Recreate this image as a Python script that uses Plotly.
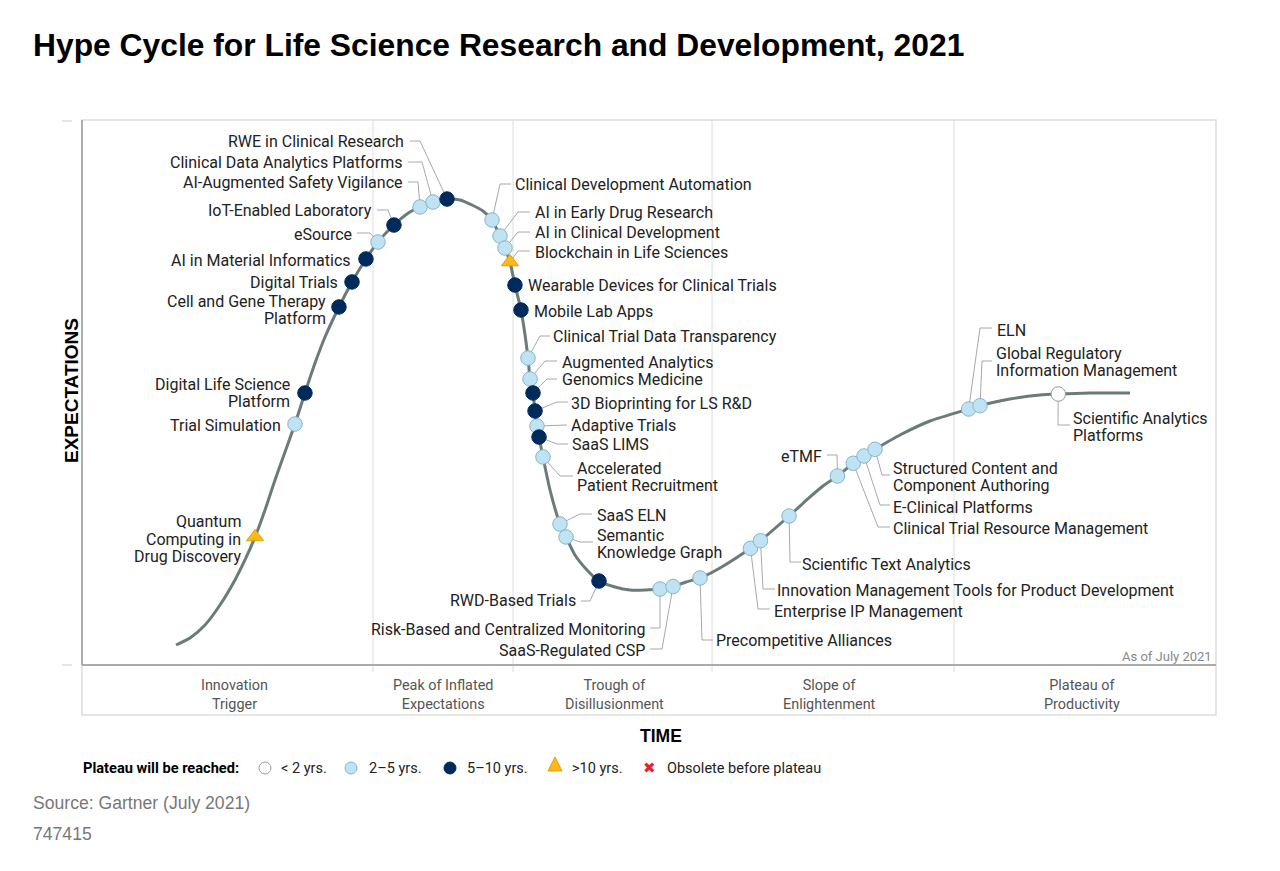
import plotly.graph_objects as go

# ---------------- data (time %, expectations %) ----------------
CURVE_T = [8.29, 9.52, 10.85, 12.17, 13.49, 14.37, 15.26, 16.14, 17.02, 17.90, 18.78, 19.66, 20.55, 21.43,
           22.66, 23.81, 25.04, 26.10, 27.51, 28.66, 29.81, 30.95, 32.19, 33.33, 34.39, 35.36, 36.16, 36.86,
           37.30, 37.74, 38.18, 38.71, 39.07, 39.33, 39.51, 39.77, 39.95, 40.12, 40.30, 40.65, 41.27, 42.15,
           42.68, 43.47, 44.53, 45.59, 47.00, 48.32, 49.65, 50.97, 52.12, 53.26, 54.50, 56.26, 58.95, 59.83,
           62.35, 64.20, 65.34, 66.62, 68.01, 68.96, 69.93, 72.13, 74.78, 78.19, 79.19, 81.83, 84.48, 86.09,
           88.89, 92.42]
CURVE_E = [3.67, 4.95, 7.34, 11.01, 15.60, 19.27, 23.49, 28.44, 33.94, 39.08, 44.22, 49.91, 55.41, 60.18,
           65.69, 70.28, 74.50, 77.61, 80.73, 82.75, 84.04, 84.95, 85.50, 85.32, 84.40, 83.30, 81.65, 78.72,
           76.51, 73.94, 69.72, 65.14, 60.55, 56.33, 52.48, 49.91, 46.61, 43.85, 41.83, 38.17, 32.11, 25.87,
           23.49, 20.18, 17.43, 15.41, 14.31, 13.76, 13.76, 13.94, 14.40, 15.23, 15.96, 17.80, 21.41, 22.81,
           27.34, 30.83, 32.84, 34.68, 37.01, 38.35, 39.58, 42.20, 44.77, 46.97, 47.58, 48.81, 49.54, 49.72,
           49.91, 49.91]

TECH_LABELS = [
    "Quantum<br>Computing in<br>Drug Discovery", "Trial Simulation", "Digital Life Science<br>Platform",
    "Cell and Gene Therapy<br>Platform", "Digital Trials", "AI in Material Informatics", "eSource",
    "IoT-Enabled Laboratory", "AI-Augmented Safety Vigilance", "Clinical Data Analytics Platforms",
    "RWE in Clinical Research", "Clinical Development Automation", "AI in Early Drug Research",
    "AI in Clinical Development", "Blockchain in Life Sciences", "Wearable Devices for Clinical Trials",
    "Mobile Lab Apps", "Clinical Trial Data Transparency", "Augmented Analytics", "Genomics Medicine",
    "3D Bioprinting for LS R&D", "Adaptive Trials", "SaaS LIMS", "Accelerated<br>Patient Recruitment",
    "SaaS ELN", "Semantic<br>Knowledge Graph", "RWD-Based Trials", "Risk-Based and Centralized Monitoring",
    "SaaS-Regulated CSP", "Precompetitive Alliances", "Enterprise IP Management",
    "Innovation Management Tools for Product Development", "Scientific Text Analytics", "eTMF",
    "Clinical Trial Resource Management", "E-Clinical Platforms", "Structured Content and<br>Component Authoring",
    "ELN", "Global Regulatory<br>Information Management", "Scientific Analytics<br>Platforms",
]
TECH_TIME = [15.26, 18.78, 19.66, 22.66, 23.81, 25.04, 26.10, 27.51, 29.81, 30.95,
             32.19, 36.16, 36.86, 37.30, 37.74, 38.18, 38.71, 39.33, 39.51, 39.77,
             39.95, 40.12, 40.30, 40.65, 42.15, 42.68, 45.59, 50.97, 52.12, 54.50,
             58.95, 59.83, 62.35, 66.62, 68.01, 68.96, 69.93, 78.19, 79.19, 86.09]
TECH_EXPECT = [23.49, 44.22, 49.91, 65.69, 70.28, 74.50, 77.61, 80.73, 84.04, 84.95,
               85.50, 81.65, 78.72, 76.51, 73.94, 69.72, 65.14, 56.33, 52.48, 49.91,
               46.61, 43.85, 41.83, 38.17, 25.87, 23.49, 15.41, 13.94, 14.40, 15.96,
               21.41, 22.81, 27.34, 34.68, 37.01, 38.35, 39.58, 46.97, 47.58, 49.72]
TECH_PLATEAU = [">10", "2-5", "5-10", "5-10", "5-10", "5-10", "2-5", "5-10", "2-5", "2-5",
                "5-10", "2-5", "2-5", "2-5", ">10", "5-10", "5-10", "2-5", "2-5", "5-10",
                "5-10", "2-5", "5-10", "2-5", "2-5", "2-5", "5-10", "2-5", "2-5", "2-5",
                "2-5", "2-5", "2-5", "2-5", "2-5", "2-5", "2-5", "2-5", "2-5", "<2"]

PHASE_NAMES = ["Innovation<br>Trigger", "Peak of Inflated<br>Expectations", "Trough of<br>Disillusionment",
               "Slope of<br>Enlightenment", "Plateau of<br>Productivity"]
PHASE_BOUNDS = [25.66, 38.01, 55.56, 76.90]   # time % where phases change

LEGEND_LABELS = ["< 2 yrs.", "2\u20135 yrs.", "5\u201310 yrs.", ">10 yrs.", "Obsolete before plateau"]

# ---------------- layout helpers (pixel geometry of the frame) ----------------
W, H = 1280, 871
L, R, T, B = 82, 1216, 120, 665

def dx(px):  # pixel -> data x
    return (px - L) / (R - L) * 100

def dy(py):  # pixel -> data y
    return (B - py) / (B - T) * 100

def pxp(px):  # pixel -> paper x
    return (px - L) / (R - L)

def pyp(py):
    return (B - py) / (B - T)

# label anchor (xanchor, px, py) and leader elbow points (pixels)
LABEL_LAYOUT = [
    ("right", 241, 539, None),
    ("right", 281, 425, None),
    ("right", 290, 393, None),
    ("right", 326, 310, None),
    ("right", 338, 282, None),
    ("right", 351, 260, None),
    ("right", 352, 234, [(370, 233), (357, 233)]),
    ("right", 372, 210, [(388, 210), (377, 210)]),
    ("right", 403, 182, [(418, 182), (408, 182)]),
    ("right", 402, 162, [(422, 162), (408, 162)]),
    ("right", 404, 141, [(420, 141), (410, 141)]),
    ("left", 515, 184, [(500, 184), (511, 184)]),
    ("left", 535, 212, [(518, 212), (530, 212)]),
    ("left", 535, 232, [(518, 232), (530, 232)]),
    ("left", 535, 252, [(518, 251), (530, 251)]),
    ("left", 528, 285, None),
    ("left", 534, 311, None),
    ("left", 553, 336, [(540, 336), (550, 336)]),
    ("left", 562, 362, [(545, 361), (557, 361)]),
    ("left", 562, 379, [(547, 379), (557, 379)]),
    ("left", 571, 403, [(557, 402), (568, 402)]),
    ("left", 571, 425, [(567, 425)]),
    ("left", 572, 444, [(557, 444), (568, 444)]),
    ("left", 577, 477, [(560, 476), (573, 476)]),
    ("left", 597, 515, [(580, 514), (592, 514)]),
    ("left", 597, 544, [(580, 542), (593, 542)]),
    ("right", 576, 600, [(590, 601), (581, 601)]),
    ("right", 645, 629, [(660, 628), (650, 628)]),
    ("right", 645, 650, [(662, 649), (650, 649)]),
    ("left", 716, 640, [(702, 640), (713, 640)]),
    ("left", 774, 611, [(758, 609), (770, 609)]),
    ("left", 777, 590, [(763, 589), (775, 589)]),
    ("left", 802, 564, [(790, 562), (801, 562)]),
    ("right", 822, 456, [(837, 455), (827, 455)]),
    ("left", 893, 528, [(878, 527), (890, 527)]),
    ("left", 893, 507, [(880, 505), (890, 505)]),
    ("left", 893, 477, [(882, 475), (890, 475)]),
    ("left", 997, 330, [(980, 328), (992, 328)]),
    ("left", 996, 362, [(982, 361), (992, 361)]),
    ("left", 1073, 427, [(1058, 425), (1070, 425)]),
]
LINE_H = 17.5   # px between lines of a multi-line label
PAD = 2         # annotation inner padding compensation

STYLE = {
    "<2": dict(symbol="circle", size=14.5, color="#FFFFFF", line=dict(color="#9A9A9A", width=1)),
    "2-5": dict(symbol="circle", size=14.5, color="#BFE3F3", line=dict(color="#86B5CB", width=1)),
    "5-10": dict(symbol="circle", size=14.5, color="#002A5C", line=dict(color="#002A5C", width=1)),
    ">10": dict(symbol="triangle-up", size=15, color="#FFB81C", line=dict(color="#E5A000", width=1)),
}

FONT = "Roboto, Arial, sans-serif"
HEAD = "Liberation Sans, Arial, sans-serif"

fig = go.Figure()

# leaders
lx, ly = [], []
for i, lay in enumerate(LABEL_LAYOUT):
    pts = lay[3]
    if not pts:
        continue
    lx.append(TECH_TIME[i]); ly.append(TECH_EXPECT[i])
    for (px, py) in pts:
        lx.append(dx(px)); ly.append(dy(py))
    lx.append(None); ly.append(None)
fig.add_trace(go.Scatter(x=lx, y=ly, mode="lines", line=dict(color="#A8A8A8", width=1),
                         hoverinfo="skip", showlegend=False))

# curve
fig.add_trace(go.Scatter(x=CURVE_T, y=CURVE_E, mode="lines",
                         line=dict(color="#6D7A7A", width=3, shape="spline", smoothing=0.6),
                         hoverinfo="skip", showlegend=False))

# technology markers
for cat in ["<2", "2-5", "5-10", ">10"]:
    idx = [i for i, c in enumerate(TECH_PLATEAU) if c == cat]
    fig.add_trace(go.Scatter(
        x=[TECH_TIME[i] for i in idx], y=[TECH_EXPECT[i] for i in idx],
        text=[TECH_LABELS[i].replace("<br>", " ") for i in idx],
        mode="markers", marker=STYLE[cat], hoverinfo="text", showlegend=False, cliponaxis=False))

annotations = []

# technology labels (one annotation per line for tight line spacing)
for i, (anc, px, py, _) in enumerate(LABEL_LAYOUT):
    lines = TECH_LABELS[i].split("<br>")
    n = len(lines)
    ax = px - PAD if anc == "left" else px + PAD
    for k, line in enumerate(lines):
        yy = py + (k - (n - 1) / 2) * LINE_H
        annotations.append(dict(x=dx(ax), y=dy(yy), xref="x", yref="y", text=line, showarrow=False,
                                xanchor=anc, yanchor="middle", align=anc,
                                font=dict(family=FONT, size=16, color="#222222")))

shapes = []
# plot frame
shapes.append(dict(type="rect", xref="paper", yref="paper", x0=0, x1=1, y0=0, y1=1,
                   line=dict(color="#DDDDDD", width=1.5), layer="below"))
# phase band
shapes.append(dict(type="rect", xref="paper", yref="paper", x0=0, x1=1, y0=pyp(715), y1=0,
                   line=dict(color="#DDDDDD", width=1.5), layer="below"))
# phase separators
for b in PHASE_BOUNDS:
    shapes.append(dict(type="line", xref="x", yref="paper", x0=b, x1=b, y0=pyp(672), y1=1,
                       line=dict(color="#DDDDDD", width=1), layer="below"))
# axes lines
shapes.append(dict(type="line", xref="paper", yref="paper", x0=0, x1=0, y0=0, y1=1,
                   line=dict(color="#9A9A9A", width=1.5)))
shapes.append(dict(type="line", xref="paper", yref="paper", x0=0, x1=1, y0=0, y1=0,
                   line=dict(color="#9A9A9A", width=1.5)))
# small ticks at left
for ty in (121, 665):
    shapes.append(dict(type="line", xref="paper", yref="paper", x0=pxp(62), x1=pxp(72), y0=pyp(ty), y1=pyp(ty),
                       line=dict(color="#CCCCCC", width=1)))

# legend symbols
ly_leg = 768
def circ(cx, fill, line):
    r = 6
    return dict(type="circle", xref="paper", yref="paper", x0=pxp(cx - r), x1=pxp(cx + r),
                y0=pyp(ly_leg + r), y1=pyp(ly_leg - r), fillcolor=fill, line=dict(color=line, width=1))
shapes.append(circ(265, STYLE["<2"]["color"], STYLE["<2"]["line"]["color"]))
shapes.append(circ(351, STYLE["2-5"]["color"], STYLE["2-5"]["line"]["color"]))
shapes.append(circ(450, STYLE["5-10"]["color"], STYLE["5-10"]["line"]["color"]))
tri = "M {} {} L {} {} L {} {} Z".format(pxp(555), pyp(757), pxp(562), pyp(771), pxp(548), pyp(771))
shapes.append(dict(type="path", xref="paper", yref="paper", path=tri, fillcolor=STYLE[">10"]["color"],
                   line=dict(color=STYLE[">10"]["line"]["color"], width=1)))

def ann(px, py, text, size, color="#222222", family=FONT, xanchor="left", yanchor="middle", align="left", **kw):
    annotations.append(dict(x=pxp(px), y=pyp(py), xref="paper", yref="paper", text=text, showarrow=False,
                            xanchor=xanchor, yanchor=yanchor, align=align,
                            font=dict(family=family, size=size, color=color), **kw))

ann(31, 45, "<b>Hype Cycle for Life Science Research and Development, 2021</b>", 31.8, "#000000", HEAD)
ann(71, 391, "<b>EXPECTATIONS</b>", 19, "#000000", HEAD, xanchor="center", textangle=-90)
ann(661, 736, "<b>TIME</b>", 17.5, "#000000", HEAD, xanchor="center")
ann(1214, 656, "As of July 2021", 13, "#888888", xanchor="right")

phase_centers = [234, 443, 614, 829, 1082]
for name, cx in zip(PHASE_NAMES, phase_centers):
    ann(cx, 694.5, name, 14.4, "#555555", xanchor="center", align="center")

# legend
ann(81, 768, "<b>Plateau will be reached:</b>", 14.6, "#000000")
for text, x0 in zip(LEGEND_LABELS, [279, 367, 465, 570, 665]):
    ann(x0, 768, text, 14.5, "#222222")
ann(649, 768, "\u2716", 15, "#E0262A", family="DejaVu Sans", xanchor="center")

ann(31, 803, "Source: Gartner (July 2021)", 17.6, "#777777", HEAD)
ann(31, 834, "747415", 17.6, "#777777", HEAD)

fig.update_layout(
    width=W, height=H,
    margin=dict(l=L, r=W - R, t=T, b=H - B, pad=0),
    paper_bgcolor="white", plot_bgcolor="white",
    xaxis=dict(range=[0, 100], showgrid=False, zeroline=False, showticklabels=False, showline=False,
               fixedrange=True),
    yaxis=dict(range=[0, 100], showgrid=False, zeroline=False, showticklabels=False, showline=False,
               fixedrange=True),
    shapes=shapes, annotations=annotations, showlegend=False,
)

fig.write_html("out.html")
